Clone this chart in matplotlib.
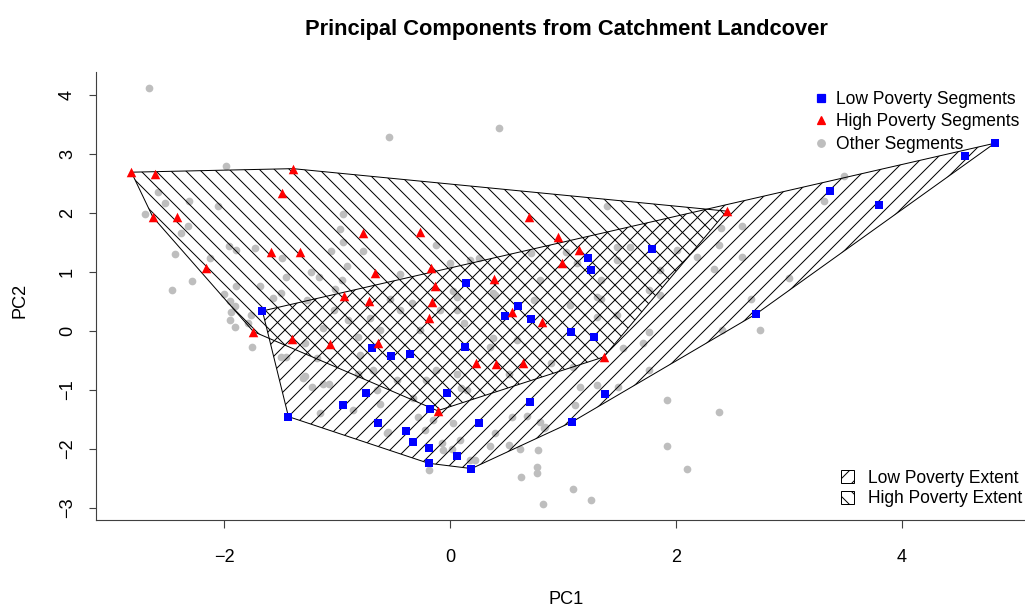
import numpy as np
import matplotlib
matplotlib.use("Agg")
import matplotlib.pyplot as plt
from matplotlib.patches import Polygon, Patch
from matplotlib.lines import Line2D

plt.rcParams['font.family'] = ['Liberation Sans', 'DejaVu Sans']
plt.rcParams['hatch.linewidth'] = 0.8

# PC scores of the catchment segments
low_pc1 = [4.82, 4.56, 3.36, 3.80, 2.71, 1.79, 1.22, 1.25, 0.14, 0.60, 0.49, 0.72,
           1.07, 1.27, 0.13, 1.37, 0.71, 1.08, 0.26, 0.19, 0.06, -0.19, -0.19, -0.33,
           -0.39, -0.64, -0.18, -0.03, -0.74, -0.95, -1.43, -1.66, -0.69, -0.52, -0.35]
low_pc2 = [3.18, 2.97, 2.37, 2.14, 0.29, 1.39, 1.23, 1.03, 0.82, 0.43, 0.25, 0.20,
           -0.01, -0.10, -0.27, -1.06, -1.21, -1.54, -1.55, -2.33, -2.12, -2.24, -1.98, -1.88,
           -1.69, -1.55, -1.32, -1.05, -1.05, -1.26, -1.45, 0.34, -0.28, -0.42, -0.39]

high_pc1 = [-2.82, -2.61, -1.39, -1.49, -2.63, -2.42, -1.58, -1.33, -2.16, -0.77, -0.27,
            -0.66, -0.17, -0.13, -0.94, -0.72, -0.16, -0.19, -1.40, -1.06, -0.64, -1.74,
            -0.11, 0.96, 1.14, 0.99, 0.39, 0.55, 0.81, 0.23, 0.41, 0.65, 1.36, 2.45, 0.70]
high_pc2 = [2.69, 2.66, 2.75, 2.34, 1.93, 1.93, 1.34, 1.33, 1.06, 1.66, 1.68,
            0.98, 1.06, 0.76, 0.60, 0.51, 0.49, 0.22, -0.13, -0.22, -0.20, -0.01,
            -1.35, 1.59, 1.37, 1.16, 0.88, 0.32, 0.15, -0.55, -0.56, -0.55, -0.44, 2.03, 1.93]

other_pc1 = [-2.66, -0.54, 0.43, -1.98, -2.58, -2.52, -2.31, -2.05, -2.70, -2.32, -2.38,
             -1.96, -1.89, -1.73, -2.43, -2.12, -1.49, -1.45, -2.28, -2.46, -1.89, -1.68,
             -2.00, -1.57, -1.50, -1.95, -1.90, -1.94, -1.95, -1.90, -1.79, -1.76, -1.75,
             -0.95, -0.97, -0.95, -1.05, -0.91, -0.77, -0.44, -1.23, -1.16, -0.96, -1.02,
             -0.12, 0.00, 0.18, 0.26, 0.72, 0.80, 0.40, 0.06, 1.30, 1.39, 2.40, 2.58,
             2.38, 2.19, 2.58, 2.34, 2.01, 1.86, 1.76, 1.86, 2.66, 1.59, 1.48, 1.34,
             1.12, 1.03, 3.49, 3.31, 3.00, 2.41, 2.74, 2.38,
             -1.27, -1.03, -0.90, -0.71, -0.53, -0.34, -0.44, -0.62, -0.81, -1.12, -1.28,
             -1.18, -0.80, -1.45, -1.28, -1.12, -0.81, -0.68, -0.47, -0.21, -0.12, -0.27,
             -0.09, -0.62, -0.65, -0.33, 0.38, 0.06, 0.12, 0.74, 1.06, 1.30, 1.34, 1.48,
             0.03, 0.38, 0.59, 0.35, 1.09, 0.89, 0.06, 0.15, 1.48, 1.30, 1.15, 1.53, 0.52,
             1.11, -1.50, -1.30, -1.22, -1.07, -1.15, -0.86, -0.56, -0.19,
             1.92, 1.92, 2.10, 0.63, 0.77, 0.77, 0.82, 1.09, 1.25, 0.78, 0.84, 0.68, 0.55,
             0.40, 0.35, 0.62, -0.07, 0.02, 1.49, 1.76, 1.71, 1.76, 0.80, 0.83, 0.52, 0.09,
             0.18, 0.22, -0.22, -0.15, -0.28, -0.55, 0.10, 0.03, -0.06]
other_pc2 = [4.11, 3.28, 3.44, 2.80, 2.36, 2.17, 2.21, 2.12, 1.99, 1.78, 1.66,
             1.44, 1.38, 1.40, 1.30, 1.24, 1.23, 0.91, 0.85, 0.69, 0.77, 0.77,
             0.62, 0.56, 0.64, 0.50, 0.42, 0.33, 0.19, 0.06, 0.13, 0.27, -0.27,
             1.98, 1.73, 1.51, 1.36, 1.10, 1.36, 0.96, 1.00, 0.92, 0.86, 0.71,
             1.46, 1.15, 1.20, 1.23, 1.32, 0.86, 0.61, 0.58, 0.58, 2.11, 1.75, 1.78,
             1.46, 1.26, 1.26, 1.05, 1.37, 1.03, 0.69, 0.61, 0.55, 1.43, 1.21, 0.86,
             1.15, 1.34, 2.63, 2.20, 0.89, 0.02, 0.02, -1.38,
             0.53, 0.36, 0.19, 0.22, 0.55, 0.47, 0.36, 0.02, -0.10, 0.05, -0.21,
             -0.46, -0.41, -0.44, -0.77, -0.89, -0.72, -0.66, -0.83, -0.83, -0.66, 0.02,
             0.36, -1.23, -1.00, -1.14, 0.64, 0.36, 0.13, 0.53, 0.44, 0.24, 0.55, 0.27,
             0.67, -0.12, -0.15, -0.27, -0.61, -0.55, -0.72, -1.00, 1.43, -0.92, -0.94, -0.29, -0.72,
             -1.25, -0.44, -0.80, -0.94, -0.89, -1.39, -1.34, -1.73, -2.35,
             -1.17, -1.94, -2.34, -2.47, -2.30, -2.40, -2.93, -2.68, -2.86, -2.02, -1.62, -1.44, -1.45,
             -1.73, -1.94, -1.99, -1.90, -1.99, -0.94, -0.01, -0.21, -0.66, -1.54, -1.65, -1.93, -1.85,
             -2.19, -2.19, -1.68, -1.51, -1.45, -1.71, -0.97, -1.56, -2.02]


def convex_hull(xs, ys):
    pts = sorted(set(zip(xs, ys)))

    def cross(o, a, b):
        return (a[0] - o[0]) * (b[1] - o[1]) - (a[1] - o[1]) * (b[0] - o[0])

    lower, upper = [], []
    for p in pts:
        while len(lower) >= 2 and cross(lower[-2], lower[-1], p) <= 0:
            lower.pop()
        lower.append(p)
    for p in reversed(pts):
        while len(upper) >= 2 and cross(upper[-2], upper[-1], p) <= 0:
            upper.pop()
        upper.append(p)
    return np.array(lower[:-1] + upper[:-1])


fig = plt.figure(figsize=(1025 / 90, 609 / 90), dpi=90)
ax = fig.add_axes([96 / 1025, 89 / 609, 940 / 1025, 448 / 609])

ax.scatter(other_pc1, other_pc2, marker='o', s=38, color='#BEBEBE', linewidths=0, zorder=1)

low_hull = convex_hull(low_pc1, low_pc2)
high_hull = convex_hull(high_pc1, high_pc2)
ax.add_patch(Polygon(low_hull, closed=True, facecolor='none', edgecolor='black',
                     hatch='//', linewidth=0.8, zorder=2))
ax.add_patch(Polygon(high_hull, closed=True, facecolor='none', edgecolor='black',
                     hatch='\\\\', linewidth=0.8, zorder=2))

ax.scatter(low_pc1, low_pc2, marker='s', s=40, color='#0000FF', linewidths=0, zorder=3)
ax.scatter(high_pc1, high_pc2, marker='^', s=58, color='#FF0000', linewidths=0, zorder=3)

ax.set_xlim(-3.133, 5.186)
ax.set_ylim(-3.201, 4.387)
ax.set_xticks([-2, 0, 2, 4])
ax.set_yticks(range(-3, 5))
for side in ('top', 'right'):
    ax.spines[side].set_visible(False)
for side in ('left', 'bottom'):
    ax.spines[side].set_color('#404040')
    ax.spines[side].set_linewidth(0.9)
ax.tick_params(direction='out', length=6, width=0.9, color='#404040', labelsize=14.5)
ax.tick_params(axis='x', pad=17)
ax.tick_params(axis='y', pad=10)
for lab in ax.get_yticklabels():
    lab.set_rotation(90)
    lab.set_va('center')

fig.text(566 / 1025, 1 - 600 / 609, 'PC1', ha='center', va='center', fontsize=14.5)
fig.text(20 / 1025, 1 - 300 / 609, 'PC2', ha='center', va='center', fontsize=14.5,
         rotation=90)
fig.text(566 / 1025, 1 - 29 / 609, 'Principal Components from Catchment Landcover',
         ha='center', va='center', fontsize=17.5, fontweight='bold')

pt_handles = [
    Line2D([], [], marker='s', linestyle='none', color='#0000FF', markersize=6),
    Line2D([], [], marker='^', linestyle='none', color='#FF0000', markersize=6),
    Line2D([], [], marker='o', linestyle='none', color='#BEBEBE', markersize=6),
]
leg1 = ax.legend(pt_handles, ['Low Poverty Segments', 'High Poverty Segments', 'Other Segments'],
                 loc='upper right', bbox_to_anchor=(1028 / 1025, 1 - 82 / 609),
                 bbox_transform=fig.transFigure, frameon=False, fontsize=14,
                 handlelength=0.6, handletextpad=0.55, labelspacing=0.32, borderpad=0)
ax.add_artist(leg1)

ext_handles = [
    Patch(facecolor='none', edgecolor='black', hatch='//', linewidth=0.8),
    Patch(facecolor='none', edgecolor='black', hatch='\\\\', linewidth=0.8),
]
ax.legend(ext_handles, ['Low Poverty Extent', 'High Poverty Extent'],
          loc='lower right', bbox_to_anchor=(1031 / 1025, 1 - 516 / 609),
          bbox_transform=fig.transFigure, frameon=False, fontsize=14,
          handlelength=0.75, handleheight=0.75, handletextpad=0.8, labelspacing=0.2, borderpad=0)

fig.savefig('out.png', dpi=90)
